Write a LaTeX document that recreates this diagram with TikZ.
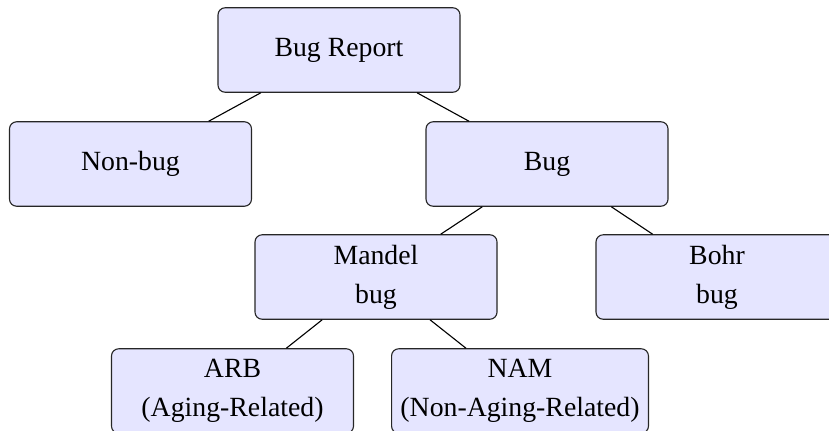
\documentclass[tikz,border=0pt]{standalone}
\usepackage{fontspec}
\setmainfont{Liberation Serif}
\usetikzlibrary{positioning}

\begin{document}
\begin{tikzpicture}[
    x=0.45pt, y=-0.45pt,
    line join=round,
    font=\fontsize{12.5}{17.5}\selectfont,
    bugbox/.style={draw=black!85, fill=blue!10, rounded corners=3.2pt,
      line width=0.5pt, align=center, inner xsep=4pt,
      minimum width=108.9pt, minimum height=38pt},
    link/.style={draw=black, line width=0.5pt}
  ]

  % ------------------ Layout ------------------
  \def\rowA{50}
  \def\rowB{164}
  \def\rowC{277}
  \def\rowD{391}

  \useasboundingbox (0,0) rectangle (829,430);
  \clip (0,0) rectangle (829,430);

  % ------------------ Boxes ------------------
  \node[bugbox] (report) at (339,\rowA) {Bug Report};

  \node[bugbox] (nonbug) at (130.5,\rowB) {Non-bug};
  \node[bugbox] (bug) at (547,\rowB) {Bug};

  \node[bugbox] (mandel) at (376,\rowC) {Mandel\\bug};
  \node[bugbox] (bohr) at (717,\rowC) {Bohr\\bug};

  \node[bugbox] (arb) at (232.5,\rowD) {ARB\\(Aging-Related)};
  \node[bugbox] (nam) at (520,\rowD) {NAM\\(Non-Aging-Related)};

  % ------------------ Links ------------------
  \draw[link] (report) -- (nonbug);
  \draw[link] (report) -- (bug);
  \draw[link] (bug) -- (mandel);
  \draw[link] (bug) -- (bohr);
  \draw[link] (mandel) -- (arb);
  \draw[link] (mandel) -- (nam);

\end{tikzpicture}
\end{document}
